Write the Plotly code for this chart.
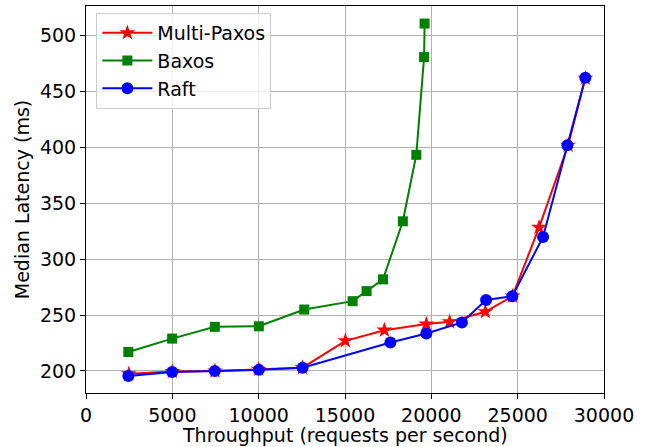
import plotly.graph_objects as go

mp_x = [2480, 5000, 7470, 10000, 12540, 15020, 17280, 19710, 21060, 23130, 24700, 26240, 27920, 28920]
mp_y = [197.5, 199.5, 200, 201.5, 203, 227, 236.5, 242, 244, 253, 267, 328.5, 402, 462]

baxos_x = [2450, 4990, 7460, 10010, 12640, 15440, 16250, 17200, 18350, 19130, 19580, 19610]
baxos_y = [217, 229, 239.5, 240, 255, 262.5, 271.5, 282, 334, 393.5, 481, 511]

raft_x = [2450, 4990, 7460, 10010, 12540, 17630, 19710, 21770, 23170, 24690, 26470, 27880, 28920]
raft_y = [195.5, 199, 200, 201, 203, 225.5, 233.5, 243.5, 263.5, 267, 320, 402, 462.5]

x_ticks = [0, 5000, 10000, 15000, 20000, 25000, 30000]
y_ticks = [200, 250, 300, 350, 400, 450, 500]

FS = 19
fig = go.Figure()
fig.add_trace(go.Scatter(x=mp_x, y=mp_y, mode="lines+markers", name="Multi-Paxos",
                         line=dict(color="red", width=2),
                         marker=dict(symbol="star", size=12, color="red")))
fig.add_trace(go.Scatter(x=baxos_x, y=baxos_y, mode="lines+markers", name="Baxos",
                         line=dict(color="green", width=2),
                         marker=dict(symbol="square", size=10, color="green")))
fig.add_trace(go.Scatter(x=raft_x, y=raft_y, mode="lines+markers", name="Raft",
                         line=dict(color="blue", width=2),
                         marker=dict(symbol="circle", size=12, color="blue")))

font = dict(family="DejaVu Sans", size=FS, color="black")
fig.update_layout(
    width=654, height=447,
    margin=dict(l=86, r=50, t=6, b=54, autoexpand=False),
    paper_bgcolor="white", plot_bgcolor="white",
    font=font,
    showlegend=True,
    legend=dict(x=0.02, y=0.982, xanchor="left", yanchor="top", itemwidth=50,
                bgcolor="rgba(255,255,255,0.8)", bordercolor="#cccccc", borderwidth=1,
                font=dict(family="DejaVu Sans", size=FS, color="black")),
    annotations=[
        dict(text="Throughput (requests per second)", xref="paper", yref="paper",
             x=0.5, y=-0.108, xanchor="center", yanchor="middle", showarrow=False,
             font=font),
        dict(text="Median Latency (ms)", xref="paper", yref="paper",
             x=-0.124, y=0.5, xanchor="center", yanchor="middle", showarrow=False,
             textangle=-90, font=font),
    ],
)
fig.update_xaxes(range=[0, 30000], tickvals=x_ticks, ticktext=[str(v) for v in x_ticks],
                 showgrid=True, gridcolor="#b0b0b0", gridwidth=1, automargin=False,
                 showline=True, linecolor="black", linewidth=1, mirror=True,
                 ticks="outside", ticklen=5, tickcolor="black", zeroline=False)
fig.update_yaxes(range=[180.3, 526.7], tickvals=y_ticks, ticktext=[str(v) for v in y_ticks],
                 showgrid=True, gridcolor="#b0b0b0", gridwidth=1, automargin=False,
                 showline=True, linecolor="black", linewidth=1, mirror=True,
                 ticks="outside", ticklen=5, tickcolor="black", zeroline=False)

fig.write_html("out.html", config={"displayModeBar": False},
               post_script="document.body.style.margin='0';document.body.style.overflow='hidden';")
